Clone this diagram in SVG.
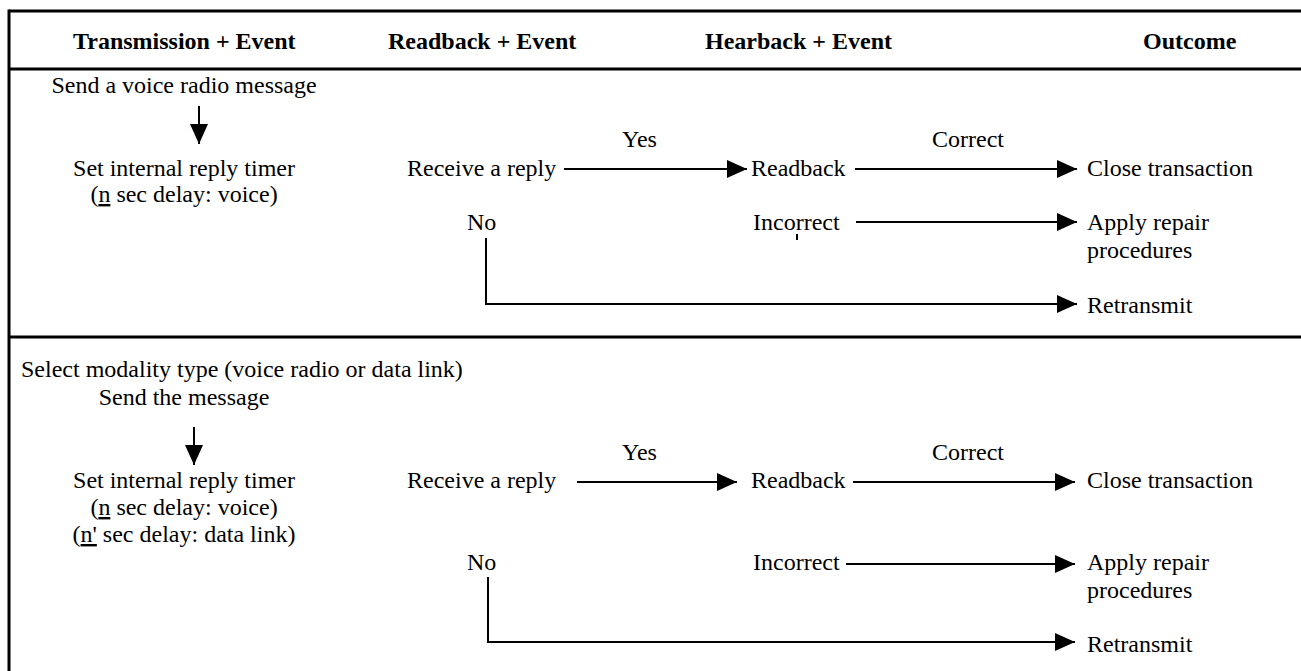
<svg xmlns="http://www.w3.org/2000/svg" width="1301" height="671" viewBox="0 0 1301 671">
<style>
text{font-family:'Liberation Serif','Times New Roman',serif;font-size:24px;fill:#000}
.h{font-weight:bold}
.m{text-anchor:middle}
.frame{stroke:#000;stroke-width:3;fill:none}
.c{stroke:#000;stroke-width:2;fill:none}
.u{text-decoration:underline}
</style>
<defs>
<marker id="ah" markerWidth="20" markerHeight="18" viewBox="0 0 20 18" refX="20" refY="9" orient="auto" markerUnits="userSpaceOnUse">
<path d="M0,0 L20,9 L0,18 Z" fill="#000"/>
</marker>
</defs>
<g id="frame">
<line class="frame" x1="9" y1="11" x2="1301" y2="11"/>
<line class="frame" x1="9" y1="69" x2="1301" y2="69"/>
<line class="frame" x1="9" y1="337" x2="1301" y2="337"/>
<line class="frame" x1="9" y1="9.5" x2="9" y2="671"/>
</g>
<g id="headers">
<text class="h" x="73" y="49">Transmission + Event</text>
<text class="h" x="388" y="49">Readback + Event</text>
<text class="h" x="705" y="49">Hearback + Event</text>
<text class="h" x="1143" y="49">Outcome</text>
</g>
<g id="connectors">
<line class="c" x1="199" y1="106" x2="199" y2="144" marker-end="url(#ah)"/>
<line class="c" x1="564" y1="169" x2="747" y2="169" marker-end="url(#ah)"/>
<line class="c" x1="855" y1="169" x2="1077" y2="169" marker-end="url(#ah)"/>
<line class="c" x1="856" y1="222" x2="1077" y2="222" marker-end="url(#ah)"/>
<polyline class="c" points="486,238 486,304 1077,304" marker-end="url(#ah)"/>
<line class="c" x1="797" y1="234" x2="797" y2="240" stroke-width="1.2"/>
<line class="c" x1="194" y1="427" x2="194" y2="465" marker-end="url(#ah)"/>
<line class="c" x1="577" y1="482" x2="737" y2="482" marker-end="url(#ah)"/>
<line class="c" x1="853" y1="482" x2="1075" y2="482" marker-end="url(#ah)"/>
<line class="c" x1="846" y1="564" x2="1075" y2="564" marker-end="url(#ah)"/>
<polyline class="c" points="488,577 488,642 1075,642" marker-end="url(#ah)"/>
</g>
<g id="send1"><text class="m" x="184" y="93">Send a voice radio message</text></g>
<g id="timer1">
<text class="m" x="184" y="176">Set internal reply timer</text>
<text class="m" x="184" y="202">(<tspan class="u">n</tspan> sec delay: voice)</text>
</g>
<g id="yes1"><text x="622" y="147">Yes</text></g>
<g id="receive1"><text x="407" y="176">Receive a reply</text></g>
<g id="readback1"><text x="751" y="176">Readback</text></g>
<g id="correct1"><text x="932" y="147">Correct</text></g>
<g id="close1"><text x="1087" y="176">Close transaction</text></g>
<g id="no1"><text x="467" y="230">No</text></g>
<g id="incorrect1"><text x="753" y="230">Incorrect</text></g>
<g id="repair1"><text x="1087" y="230">Apply repair</text><text x="1087" y="258">procedures</text></g>
<g id="retransmit1"><text x="1087" y="313">Retransmit</text></g>
<g id="select2"><text x="21" y="377">Select modality type (voice radio or data link)</text></g>
<g id="send2"><text class="m" x="184" y="405">Send the message</text></g>
<g id="timer2">
<text class="m" x="184" y="488">Set internal reply timer</text>
<text class="m" x="184" y="515">(<tspan class="u">n</tspan> sec delay: voice)</text>
<text class="m" x="184" y="542">(<tspan class="u">n'</tspan> sec delay: data link)</text>
</g>
<g id="yes2"><text x="622" y="460">Yes</text></g>
<g id="receive2"><text x="407" y="488">Receive a reply</text></g>
<g id="readback2"><text x="751" y="488">Readback</text></g>
<g id="correct2"><text x="932" y="460">Correct</text></g>
<g id="close2"><text x="1087" y="488">Close transaction</text></g>
<g id="no2"><text x="467" y="570">No</text></g>
<g id="incorrect2"><text x="753" y="570">Incorrect</text></g>
<g id="repair2"><text x="1087" y="570">Apply repair</text><text x="1087" y="598">procedures</text></g>
<g id="retransmit2"><text x="1087" y="652">Retransmit</text></g>
</svg>
